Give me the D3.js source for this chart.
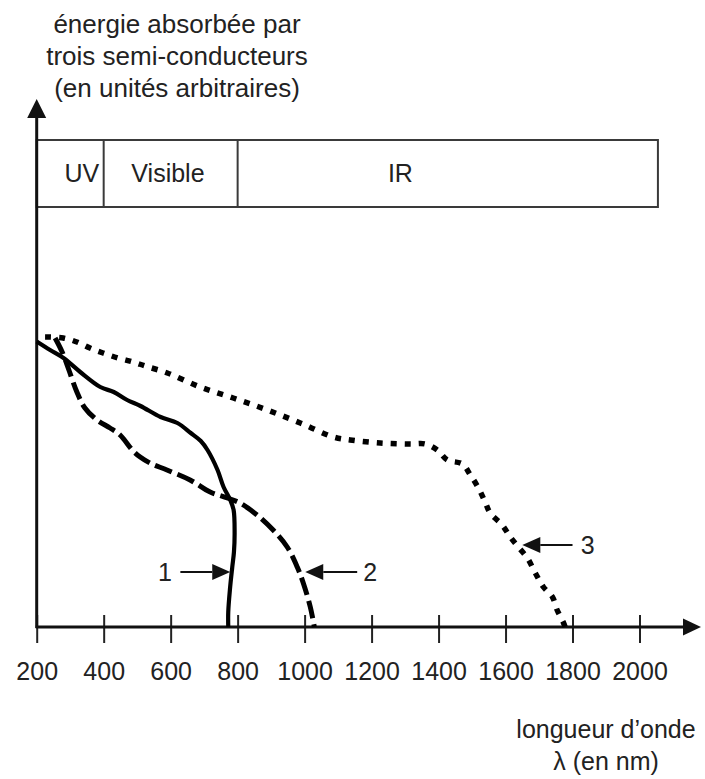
<!DOCTYPE html>
<html>
<head>
<meta charset="utf-8">
<script src="https://cdn.jsdelivr.net/npm/d3@7"></script>
<style>
  html, body { margin: 0; padding: 0; background: #fff; }
  svg { display: block; font-family: "Liberation Sans", Arial, sans-serif; }
</style>
</head>
<body>
<svg id="chart" width="705" height="779"></svg>
<script>
// ---- Data ----
const xTicks = [200, 400, 600, 800, 1000, 1200, 1400, 1600, 1800, 2000];
const bandNames = ["UV", "Visible", "IR"];
const bandEdges = [200, 400, 800, 2055];
const bandLabelX = [335, 592, 1286];

const titleLines = ["énergie absorbée par", "trois semi-conducteurs", "(en unités arbitraires)"];
const xLabelLines = ["longueur d’onde", "λ (en nm)"];

// Curve 1 (solid)
const c1x = [200, 240, 280, 330, 390, 430, 470, 510, 570, 620, 660, 690, 710, 740, 758, 778, 788, 791, 789, 784, 777, 772, 772];
const c1y = [57.1, 55.4, 53.8, 51.0, 48.0, 47.0, 45.4, 44.2, 42.0, 40.8, 38.8, 37.2, 35.4, 31.4, 28.0, 25.4, 23.4, 18.8, 15.0, 12.0, 7.5, 3.0, 0];
// Curve 2 (dashed)
const c2x = [255, 276, 294, 320, 344, 380, 419, 449, 488, 509, 538, 589, 658, 718, 769, 807, 858, 906, 948, 978, 996, 1017, 1029];
const c2y = [57.8, 55.0, 51.8, 47.0, 43.8, 41.4, 39.8, 38.4, 35.2, 34.0, 32.8, 31.4, 29.4, 27.0, 25.8, 24.8, 22.4, 19.4, 16.0, 12.0, 8.8, 4.0, 0];
// Curve 3 (dotted)
const c3x = [225, 279, 320, 359, 398, 443, 488, 524, 590, 688, 787, 889, 987, 1086, 1136, 1226, 1316, 1360, 1396, 1426, 1471, 1495, 1519, 1539, 1554, 1590, 1614, 1638, 1665, 1689, 1713, 1740, 1754, 1772, 1778];
const c3y = [58.0, 57.8, 57.0, 55.8, 54.8, 53.8, 53.0, 52.2, 50.8, 48.0, 45.8, 43.4, 40.8, 38.0, 37.4, 36.8, 36.6, 36.6, 35.4, 33.4, 32.6, 30.4, 27.8, 25.0, 22.8, 20.4, 18.0, 16.0, 13.8, 10.8, 8.0, 6.0, 3.4, 1.0, 0];

// Annotations: label, arrow tip (nm, value), arrow tail nm, text nm
const annLabels = ["1", "2", "3"];
const annTipX = [778, 1002, 1650];
const annY = [11, 11, 16.4];
const annTailX = [629, 1157, 1800];
const annTextX = [583, 1196, 1845];

// ---- Layout ----
const svg = d3.select("#chart");
const x0 = 36.7, y0 = 627;
const x = d3.scaleLinear().domain([200, 2000]).range([x0, 639.5]);
const y = d3.scaleLinear().domain([0, 100]).range([y0, 127]);

// ---- Band box ----
const boxTop = 140, boxBot = 207;
const band = svg.append("g");
band.append("rect")
  .attr("x", x(bandEdges[0])).attr("y", boxTop)
  .attr("width", x(bandEdges[3]) - x(bandEdges[0])).attr("height", boxBot - boxTop)
  .attr("fill", "none").attr("stroke", "#3a3a3a").attr("stroke-width", 2);
band.selectAll("line.div").data(bandEdges.slice(1, 3)).join("line")
  .attr("x1", d => x(d)).attr("x2", d => x(d))
  .attr("y1", boxTop).attr("y2", boxBot)
  .attr("stroke", "#3a3a3a").attr("stroke-width", 2);
band.selectAll("text").data(bandNames).join("text")
  .attr("x", (d, i) => x(bandLabelX[i])).attr("y", 182)
  .attr("text-anchor", "middle").attr("font-size", 25).attr("fill", "#222")
  .text(d => d);

// ---- Axes ----
const xAxis = d3.axisBottom(x).tickValues(xTicks).tickSize(16).tickFormat(d3.format("d"));
const gx = svg.append("g").attr("transform", `translate(0,${y0})`).call(xAxis);
gx.select(".domain").remove();
gx.selectAll(".tick line").attr("y1", -12).attr("stroke", "#222").attr("stroke-width", 2);
gx.selectAll(".tick text").attr("y", 53).attr("dy", null)
  .attr("font-size", 25).attr("font-family", "Liberation Sans, Arial, sans-serif").attr("fill", "#222");

// axis lines with arrowheads
svg.append("line").attr("x1", x0 - 1).attr("x2", 690).attr("y1", y0).attr("y2", y0)
  .attr("stroke", "#111").attr("stroke-width", 3);
svg.append("path")
  .attr("d", `M701,${y0} L683,${y0 - 8.5} L683,${y0 + 8.5} Z`).attr("fill", "#111");
svg.append("line").attr("x1", x0).attr("x2", x0).attr("y1", y0 + 1).attr("y2", 110)
  .attr("stroke", "#111").attr("stroke-width", 3);
svg.append("path")
  .attr("d", `M${x0},99 L${x0 - 9.5},118 L${x0 + 9.5},118 Z`).attr("fill", "#111");

// ---- Curves ----
const line = d3.line().x(d => x(d[0])).y(d => y(d[1])).curve(d3.curveCatmullRom.alpha(0.5));
const zip = (a, b) => a.map((v, i) => [v, b[i]]);
svg.append("path").attr("d", line(zip(c1x, c1y)))
  .attr("fill", "none").attr("stroke", "#000").attr("stroke-width", 4.2).attr("stroke-linejoin", "round");
svg.append("path").attr("d", line(zip(c2x, c2y)))
  .attr("fill", "none").attr("stroke", "#000").attr("stroke-width", 5)
  .attr("stroke-dasharray", "18,6");
svg.append("path").attr("d", line(zip(c3x, c3y)))
  .attr("fill", "none").attr("stroke", "#000").attr("stroke-width", 5.5)
  .attr("stroke-dasharray", "6,8");

// ---- Annotations ----
const ann = svg.append("g");
annLabels.forEach((lab, i) => {
  const tx = x(annTipX[i]), ty = y(annY[i]), tail = x(annTailX[i]);
  const dir = tail < tx ? 1 : -1; // 1: points right
  const headLen = 18, headH = 8;
  const base = tx - dir * headLen;
  ann.append("line").attr("x1", tail).attr("x2", base).attr("y1", ty).attr("y2", ty)
    .attr("stroke", "#111").attr("stroke-width", 2);
  ann.append("path")
    .attr("d", `M${tx},${ty} L${base},${ty - headH} L${base},${ty + headH} Z`).attr("fill", "#111");
  ann.append("text").attr("x", x(annTextX[i])).attr("y", ty + 8.5)
    .attr("text-anchor", "middle").attr("font-size", 25).attr("fill", "#222").text(lab);
});

// ---- Titles ----
svg.append("g").selectAll("text").data(titleLines).join("text")
  .attr("x", 177).attr("y", (d, i) => 33 + i * 32)
  .attr("text-anchor", "middle").attr("font-size", 26).attr("fill", "#222")
  .text(d => d);
svg.append("g").selectAll("text").data(xLabelLines).join("text")
  .attr("x", 606).attr("y", (d, i) => 738 + i * 32)
  .attr("text-anchor", "middle").attr("font-size", 25).attr("fill", "#222")
  .text(d => d);
</script>
</body>
</html>
